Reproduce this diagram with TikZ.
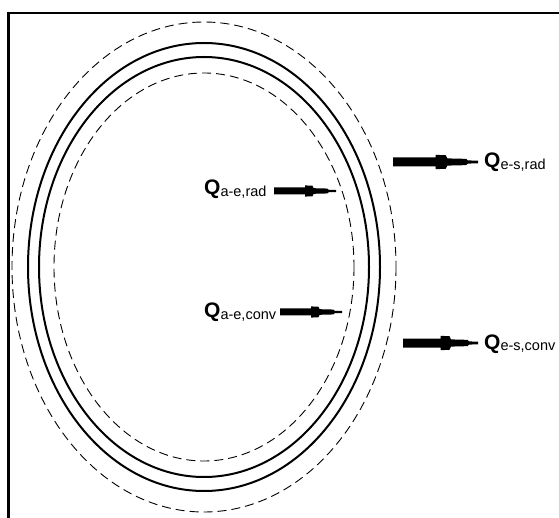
\documentclass[tikz,border=0pt]{standalone}
\usepackage{fontspec}
\setmainfont{Liberation Sans}
\usetikzlibrary{calc}
\tikzset{
  solidring/.style={line width=2pt, draw=black},
  dashring/.style={line width=0.9pt, draw=black, dash pattern=on 9pt off 5pt},
  qlabel/.style={inner sep=0pt, anchor=base west},
  frame/.style={line width=2.6pt, draw=black}
}
\newcommand{\qlab}[1]{{\fontsize{21}{21}\selectfont\bfseries Q}{\fontsize{14.5}{15}\selectfont\raisebox{-1.5pt}{#1}}}
\newcommand{\fatarrow}[3]{%
  \fill ($(#1)+(0,#3)$) -- ($(#1)!0.5!(#2)+(0,#3)$) -- ($(#1)!0.5!(#2)+(0,1.6*#3)$)
   -- ($(#1)!0.62!(#2)+(0,1.5*#3)$) -- ($(#1)!0.64!(#2)+(0,0.8*#3)$)
   -- ($(#1)!0.86!(#2)+(0,0.7*#3)$) -- ($(#1)!0.88!(#2)+(0,0.35*#3)$)
   -- ($(#2)+(0,0.3*#3)$) -- ($(#2)-(0,0.3*#3)$)
   -- ($(#1)!0.88!(#2)-(0,0.35*#3)$) -- ($(#1)!0.86!(#2)-(0,0.7*#3)$)
   -- ($(#1)!0.64!(#2)-(0,0.8*#3)$) -- ($(#1)!0.62!(#2)-(0,1.5*#3)$)
   -- ($(#1)!0.5!(#2)-(0,1.6*#3)$) -- ($(#1)!0.5!(#2)-(0,#3)$)
   -- ($(#1)-(0,#3)$) -- cycle;}
\begin{document}
\begin{tikzpicture}[x=1pt,y=-1pt]
\useasboundingbox (0,0) rectangle (559,518);
\fill[white] (0,0) rectangle (559,518);
% frame (open to the right and bottom)
\draw[frame] (570,13) -- (8.5,13) -- (8.5,530);
% rings
\coordinate (c) at (204,267);
\draw[dashring] (c) ellipse [x radius=192, y radius=245];
\draw[solidring] (c) ellipse [x radius=176, y radius=224];
\draw[solidring] (c) ellipse [x radius=165, y radius=210];
\draw[dashring] (c) ellipse [x radius=150, y radius=194];
% labels
\node[qlabel] (qaerad) at (204,195) {\qlab{a-e,rad}};
\node[qlabel] (qaeconv) at (204,318) {\qlab{a-e,conv}};
\node[qlabel] (qesrad) at (484,168) {\qlab{e-s,rad}};
\node[qlabel] (qesconv) at (484,349) {\qlab{e-s,conv}};
% arrows
\coordinate (a1s) at (274,191);
\coordinate (a1e) at (336,191);
\coordinate (a2s) at (280,312);
\coordinate (a2e) at (342,312);
\coordinate (a3s) at (393,162);
\coordinate (a3e) at (478,162);
\coordinate (a4s) at (403,343);
\coordinate (a4e) at (478,343);
\fatarrow{a1s}{a1e}{3.5}
\fatarrow{a2s}{a2e}{3.5}
\fatarrow{a3s}{a3e}{4.5}
\fatarrow{a4s}{a4e}{4.5}
\end{tikzpicture}
\end{document}
